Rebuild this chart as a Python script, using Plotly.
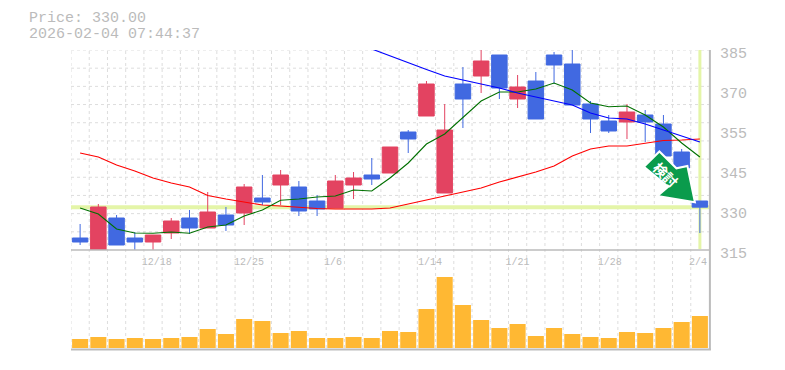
import plotly.graph_objects as go

dates = ["12/12","12/15","12/16","12/17","12/18","12/19","12/22","12/23","12/24","12/25","12/26","12/29","12/30",
         "1/5","1/6","1/7","1/8","1/9","1/13","1/14","1/15","1/16","1/19","1/20","1/21","1/22","1/23","1/26","1/27",
         "1/28","1/29","1/30","2/2","2/3","2/4"]
opens = [319.2,314.8,326.2,319.2,317.8,320.95,326.2,322.7,327.25,327.95,333.2,337.75,337.05,332.15,329.7,337.75,341.25,
         341.95,356.3,361.9,334.95,373.1,375.9,383.25,367.85,374.15,383.25,380.1,366.1,360.15,359.8,362.25,359.1,349.3,332.15]
highs = [324.1,331.1,327.25,321.3,320.25,326.2,329,335.3,330.05,338.1,341.25,343,339.15,334.25,341.25,342.3,347.2,
         351.05,357,374.15,366.1,379.05,385.35,383.25,376.25,377.3,384.3,385.35,367.15,362.25,366.1,364,362.25,350.35,332.15]
lows = [316.75,314.6,316.75,314.6,314.6,318.85,320.6,322.7,321.65,323.75,330.75,330.75,326.9,326.9,329.7,332.85,337.75,
        341.95,348.95,361.9,334.95,357.7,369.95,367.85,364.7,360.85,373.1,365.75,355.95,355.95,353.85,352.8,347.9,343.7,320.95]
closes = [317.8,330.05,316.75,317.8,320.25,325.15,322.7,328.3,323.75,337.05,331.8,341.25,328.65,329.35,339.15,340.2,339.85,
          351.05,353.85,373.1,357,367.85,381.15,371.7,372.05,360.85,379.75,365.75,360.85,356.65,363.3,359.8,347.9,343.7,330]
volumes = [9,11,9,10,9,10,11,19,14,29,27,15,17,10,10,11,10,17,16,39,71,43,28,20,24,12,20,14,11,10,16,15,20,26,32]
ma_green = [329.7,327.6,322.35,320.95,320.85,321.3,320.85,323.05,323.75,326.9,329,332.4,332.85,333.55,333.9,336,335.65,
            340.2,345.45,352.1,355.6,361.2,367.15,370.3,370.3,371.35,373.45,371,366.45,365.15,365.4,362.25,358.05,352.45,347.55]
ma_red = [348.95,347.55,344.75,342.65,340.2,338.45,337.05,334.08,332.85,331.8,330.75,330.4,329.88,329.53,329.35,329.35,329.35,
          329.7,331.1,332.5,334.08,335.3,336.7,338.8,340.55,342.3,344.4,347.9,350.35,351.4,351.4,352.45,353.33,353.5,353.85]
ma_blue = [None]*16 + [385.35,382.9,380.45,378.2,375.9,374.5,373.1,371.7,369.95,368.55,367.15,365.75,362.95,361.2,360.85,359.1,357,354.9,352.8]

price_ticks = [385,371,357,343,329,315]
price_labels = ["385","370","355","345","330","315"]
date_tick_pos = [4.2,9.27,13.87,19.2,24.0,29.05,33.9]
date_labels = ["12/18","12/25","1/6","1/14","1/21","1/28","2/4"]
last_price = 330
price_text = "Price: 330.00"
stamp_text = "2026-02-04 07:44:37"
badge_text = "検討"

W, H = 785, 370
L, R, T, B = 70.9, 709.1, 50, 348
x_pos = list(range(len(dates)))
GRAY = "#bbbbbb"
GRID = "#dddddd"
LIME = "#e4f5a8"
MONO = "Liberation Mono"

def px(x):
    return (x - L) / (R - L)

def py(y):
    return (B - y) / (B - T)

fig = go.Figure()
fig.add_trace(go.Bar(x=x_pos, y=volumes, yaxis="y2", marker=dict(color="#ffb833", line_width=0), showlegend=False))
fig.add_trace(go.Candlestick(
    x=x_pos, open=opens, high=highs, low=lows, close=closes, showlegend=False,
    increasing=dict(line=dict(color="#e34361", width=1), fillcolor="#e34361"),
    decreasing=dict(line=dict(color="#4169e1", width=1), fillcolor="#4169e1"),
    whiskerwidth=0))
for vals, col in [(ma_red, "#ff0000"), (ma_green, "#007000"), (ma_blue, "#0000ff")]:
    fig.add_trace(go.Scatter(x=x_pos, y=vals, mode="lines", line=dict(color=col, width=1.1), showlegend=False))

shapes = []
for i in range(len(dates)):
    shapes.append(dict(type="line", xref="x", yref="paper", x0=i-0.5, x1=i-0.5, y0=0, y1=1, layer="below",
                       line=dict(color=GRID, width=1, dash="3px,3px")))
for k in range(1, 12):
    shapes.append(dict(type="line", xref="paper", yref="y", x0=0, x1=1, y0=315+k*70/11, y1=315+k*70/11, layer="below",
                       line=dict(color=GRID, width=1, dash="3px,3px")))
# highlight lines for the last price and the last session
shapes.append(dict(type="line", xref="paper", yref="y", x0=0, x1=1, y0=last_price, y1=last_price, layer="below",
                   line=dict(color=LIME, width=4)))
shapes.append(dict(type="line", xref="x", yref="paper", x0=x_pos[-1], x1=x_pos[-1], y0=py(249), y1=1, layer="below",
                   line=dict(color=LIME, width=3)))
# frame
shapes.append(dict(type="line", xref="paper", yref="paper", x0=0, x1=1, y0=py(250), y1=py(250), line=dict(color=GRAY, width=1.5)))
shapes.append(dict(type="line", xref="paper", yref="paper", x0=0, x1=px(711), y0=py(349.5), y1=py(349.5), line=dict(color=GRAY, width=2)))
shapes.append(dict(type="line", xref="paper", yref="paper", x0=px(710), x1=px(710), y0=py(350), y1=1, line=dict(color=GRAY, width=2)))
# tilted green badge arrow
arrow = [(644,166.7),(659.5,151.5),(676.5,168.3),(687.5,166),(695,202.3),(657.5,196),(668.3,186.7)]
path = "M " + " L ".join(f"{px(a):.5f},{py(b):.5f}" for a, b in arrow) + " Z"
shapes.append(dict(type="path", xref="paper", yref="paper", path=path, fillcolor="#0a9b4c", line=dict(color="white", width=2)))

fig.update_layout(
    width=W, height=H, autosize=False,
    margin=dict(l=L, r=W-R, t=T, b=H-B, pad=0),
    paper_bgcolor="white", plot_bgcolor="white",
    bargap=0.12, boxgap=0.15, boxgroupgap=0, boxmode="overlay",
    shapes=shapes, showlegend=False,
    xaxis=dict(range=[-0.5, len(dates)-0.5], anchor="y", rangeslider=dict(visible=False), showgrid=False, zeroline=False,
               automargin=False, showline=False, ticks="", tickvals=date_tick_pos, ticktext=date_labels, tickangle=0,
               tickfont=dict(family=MONO, size=10, color=GRAY), ticklabelstandoff=4),
    yaxis=dict(domain=[py(250), 1], range=[315, 385], side="right", anchor="x", showgrid=False, zeroline=False, showline=False,
               automargin=False, ticks="", tickvals=price_ticks, ticktext=price_labels, ticklabelshift=3, ticklabelstandoff=10,
               tickfont=dict(family=MONO, size=15, color=GRAY)),
    yaxis2=dict(domain=[0, py(270)], range=[0, 78], visible=False, automargin=False),
    annotations=[
        dict(xref="paper", yref="paper", x=px(27), y=py(29), text=price_text, showarrow=False, xanchor="left", yanchor="bottom",
             font=dict(family=MONO, size=15, color=GRAY)),
        dict(xref="paper", yref="paper", x=px(27), y=py(45), text=stamp_text, showarrow=False, xanchor="left", yanchor="bottom",
             font=dict(family=MONO, size=15, color=GRAY)),
        dict(xref="paper", yref="paper", x=px(666.5), y=py(174.5), text=f"<b>{badge_text}</b>", showarrow=False, textangle=45,
             xanchor="center", yanchor="middle", font=dict(family="Noto Sans CJK JP", size=14, color="white")),
    ],
)
fig.write_html("out.html", config={"displayModeBar": False}, post_script="document.body.style.margin='0';")
